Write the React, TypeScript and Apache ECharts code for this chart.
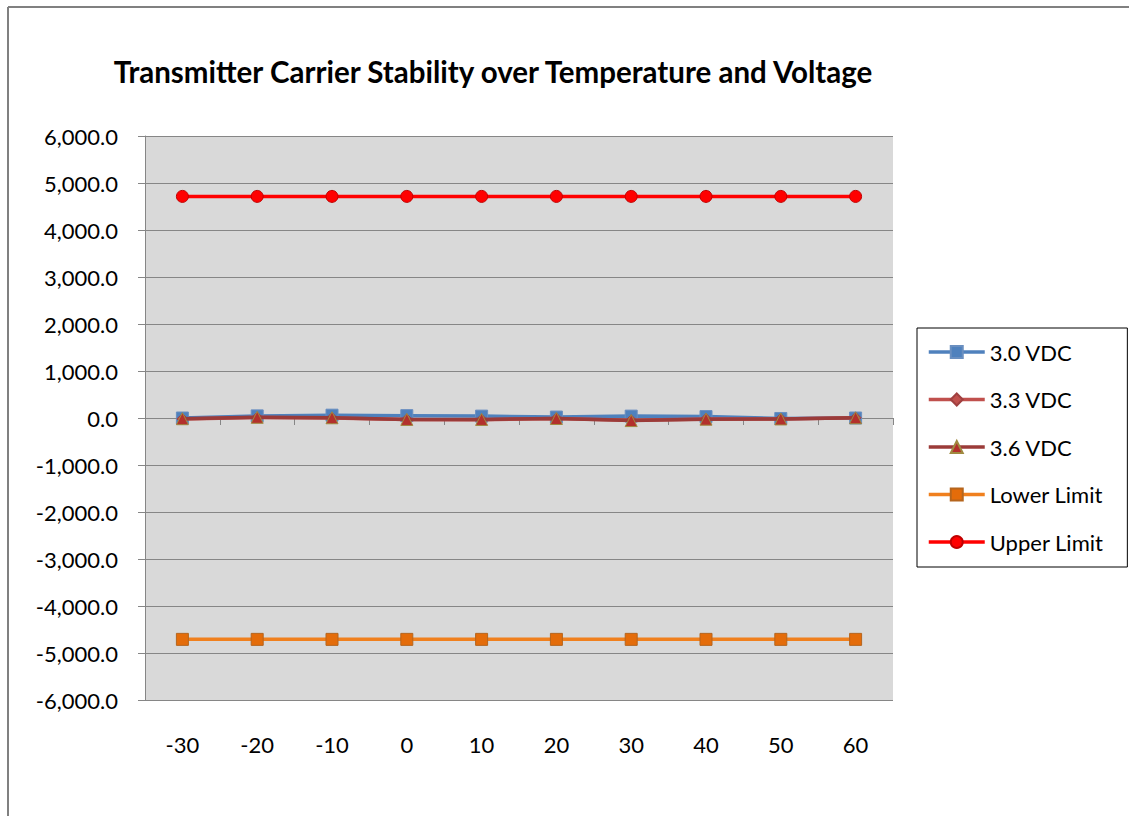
import React, { useEffect, useRef } from "react";
import * as echarts from "echarts";

const temperatures = ["-30", "-20", "-10", "0", "10", "20", "30", "40", "50", "60"];
const vdc30 = [0, 45, 60, 50, 40, 20, 40, 30, -10, 0];
const vdc33 = [-20, 10, 0, -30, -35, -10, -50, -20, -20, 5];
const vdc36 = [-15, 15, 5, -30, -30, -10, -55, -25, -20, 5];
const lowerLimit = [-4710, -4710, -4710, -4710, -4710, -4710, -4710, -4710, -4710, -4710];
const upperLimit = [4715, 4715, 4715, 4715, 4715, 4715, 4715, 4715, 4715, 4715];

const FONT = "Lato, 'Open Sans', sans-serif";

function fmt(v: number): string {
  const a = Math.abs(v);
  const s = a.toLocaleString("en-US", { minimumFractionDigits: 1, maximumFractionDigits: 1 });
  return (v < 0 ? "-" : "") + s;
}

export default function App() {
  const ref = useRef<HTMLDivElement>(null);
  useEffect(() => {
    if (!ref.current) return;
    const chart = echarts.init(ref.current, null, { renderer: "svg" });
    const mk = (
      name: string,
      data: number[],
      lineColor: string,
      symbol: string,
      size: number,
      fill: string,
      border: string,
      z: number
    ) => ({
      name,
      type: "line",
      data,
      symbol,
      symbolSize: size,
      z,
      lineStyle: { color: lineColor, width: 3.5 },
      itemStyle: { color: fill, borderColor: border, borderWidth: 1 },
      emphasis: { disabled: true },
    });
    chart.setOption({
      animation: false,
      backgroundColor: "#ffffff",
      title: {
        text: "Transmitter Carrier Stability over Temperature and Voltage",
        left: 488,
        top: 51,
        textAlign: "center",
        textStyle: { fontFamily: FONT, fontSize: 29.5, fontWeight: "bold", color: "#000" },
      },
      grid: { left: 145, right: 236, top: 136, bottom: 116, show: true, backgroundColor: "#d9d9d9", borderWidth: 0 },
      legend: {
        orient: "vertical",
        left: 917,
        top: 328,
        padding: [13, 24, 14, 10],
        itemGap: 25.5,
        itemWidth: 56,
        itemHeight: 15,
        lineStyle: { width: 3.5 },
        backgroundColor: "#ffffff",
        borderColor: "#000000",
        borderWidth: 1,
        borderRadius: 0,
        textStyle: { fontFamily: FONT, fontSize: 22, color: "#000" },
        data: ["3.0 VDC", "3.3 VDC", "3.6 VDC", "Lower Limit", "Upper Limit"],
      },
      xAxis: {
        type: "category",
        data: temperatures,
        boundaryGap: true,
        axisLine: { lineStyle: { color: "#868686", width: 1 } },
        axisTick: { show: true, length: 7, lineStyle: { color: "#868686" } },
        axisLabel: { fontFamily: FONT, fontSize: 22, color: "#000", margin: 33 },
        splitLine: { show: false },
      },
      yAxis: {
        type: "value",
        min: -6000,
        max: 6000,
        interval: 1000,
        axisLine: { show: true, lineStyle: { color: "#868686", width: 1 } },
        axisTick: { show: true, length: 7, lineStyle: { color: "#868686" } },
        axisLabel: { fontFamily: FONT, fontSize: 22, color: "#000", margin: 27, formatter: (v: number) => fmt(v) },
        splitLine: { show: true, lineStyle: { color: "#868686", width: 1 } },
      },
      graphic: [
        { type: "line", shape: { x1: 8, y1: 7, x2: 1129, y2: 7 }, style: { stroke: "#808080", lineWidth: 2 } },
        { type: "line", shape: { x1: 8, y1: 7, x2: 8, y2: 816 }, style: { stroke: "#808080", lineWidth: 2 } },
      ],
      series: [
        mk("3.0 VDC", vdc30, "#4f81bd", "rect", 12, "#4f81bd", "#6a8fc0", 3),
        mk("3.3 VDC", vdc33, "#c0504d", "diamond", 11, "#c0504d", "#a04040", 4),
        mk("3.6 VDC", vdc36, "#9b3b39", "triangle", 12, "#b3302c", "#a08a40", 5),
        mk("Lower Limit", lowerLimit, "#f0801e", "rect", 12, "#e46c0a", "#b5651d", 3),
        mk("Upper Limit", upperLimit, "#ff0000", "circle", 12, "#ff0000", "#c00000", 3),
      ],
    });
    return () => chart.dispose();
  }, []);
  return (
    <div style={{ position: "fixed", left: 0, top: 0, width: 1129, height: 816 }}>
      <div ref={ref} style={{ width: 1129, height: 816 }} />
    </div>
  );
}
